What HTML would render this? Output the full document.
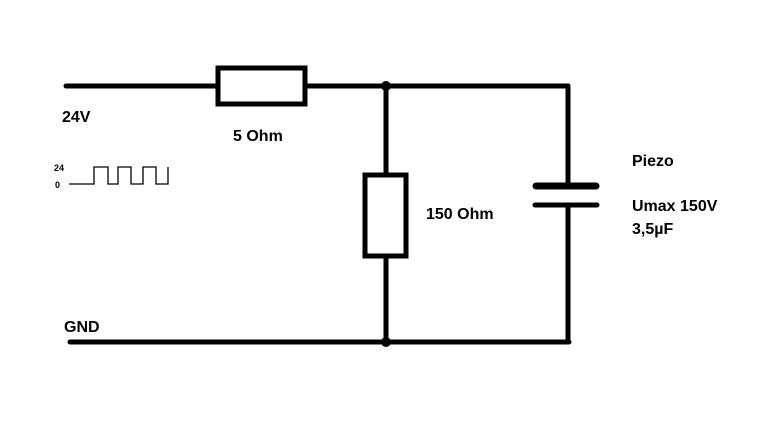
<!DOCTYPE html>
<html><head><style>
html,body{margin:0;padding:0;background:#fff;}
svg{display:block;}
text{font-family:"Liberation Sans",sans-serif;font-weight:bold;fill:#000;}
</style></head><body>
<svg width="764" height="433" viewBox="0 0 764 433">
<g stroke="#000" stroke-width="5" fill="none" stroke-linecap="round">
<line x1="66" y1="86" x2="216" y2="86"/>
<line x1="306" y1="86" x2="568" y2="86"/>
<rect x="218" y="68" width="87" height="36" fill="#fff"/>
<line x1="386" y1="86" x2="386" y2="174"/>
<rect x="365" y="175" width="41" height="81" fill="#fff"/>
<line x1="386" y1="257" x2="386" y2="342"/>
<line x1="70" y1="342" x2="569" y2="342"/>
<line x1="568" y1="86" x2="568" y2="184"/>
<line x1="568" y1="205" x2="568" y2="342"/>
<line x1="536" y1="186" x2="596" y2="186" stroke-width="7"/>
<line x1="535" y1="205" x2="597" y2="205"/>
</g>
<circle cx="386" cy="86" r="5"/>
<circle cx="386" cy="342" r="5"/>
<polyline points="69,184 94,184 94,167 108,167 108,184 118,184 118,167 131,167 131,184 143,184 143,167 156,167 156,184 168,184 168,167" fill="none" stroke="#000" stroke-width="1.3"/>
<text x="62" y="122" font-size="16">24V</text>
<text x="233" y="141" font-size="16">5 Ohm</text>
<text x="426" y="219" font-size="16">150 Ohm</text>
<text x="632" y="166" font-size="16">Piezo</text>
<text x="632" y="211" font-size="16">Umax 150V</text>
<text x="632" y="234" font-size="16">3,5µF</text>
<text x="64" y="332" font-size="16">GND</text>
<text x="54" y="171" font-size="9">24</text>
<text x="55" y="188" font-size="9">0</text>
</svg>
</body></html>
